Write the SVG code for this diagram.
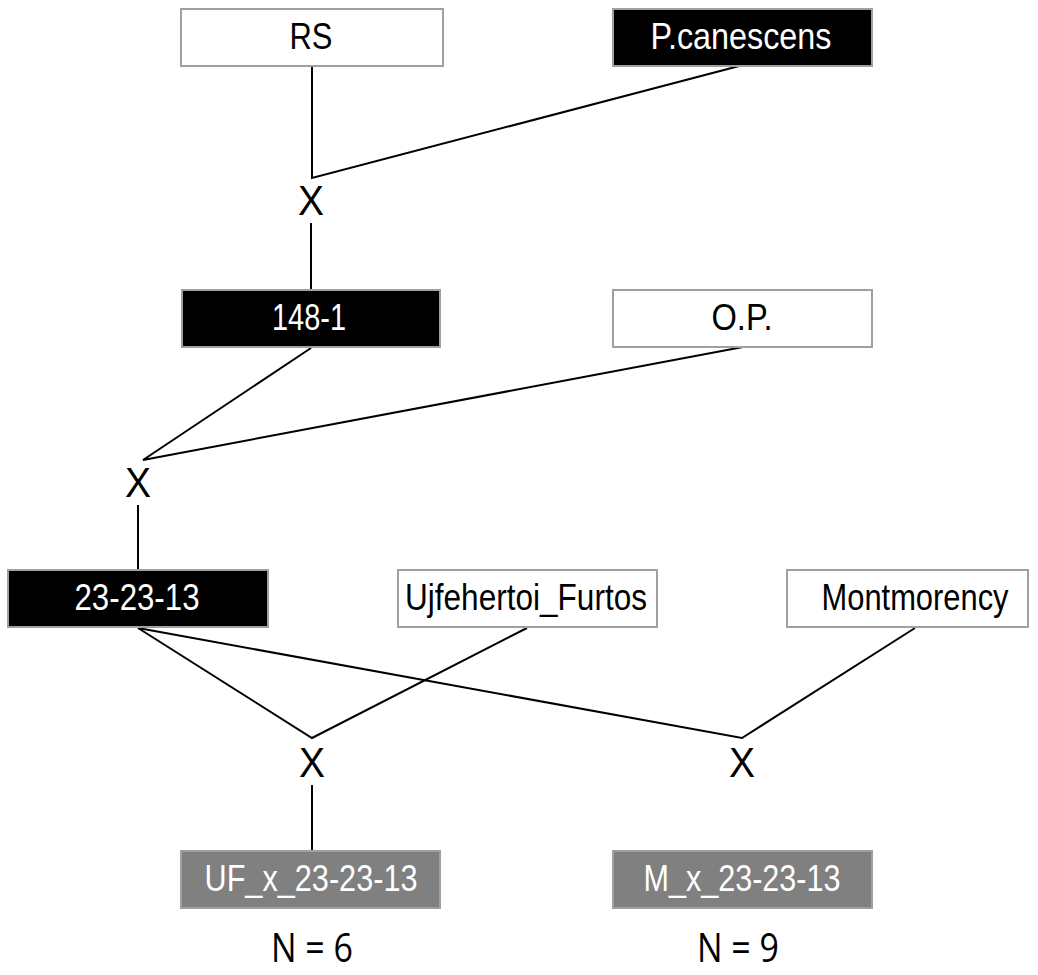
<svg xmlns="http://www.w3.org/2000/svg" width="1038" height="975" viewBox="0 0 1038 975">
<style>
.box{stroke:#a0a0a0;stroke-width:2}
.w{fill:#ffffff}
.b{fill:#000000}
.g{fill:#808080}
.t{font-family:"Liberation Sans",Arial,sans-serif;font-size:36px;text-anchor:middle}
.tw{fill:#ffffff}
.tb{fill:#000000}
.x{font-family:"Liberation Sans",Arial,sans-serif;font-size:42px;text-anchor:middle;fill:#000}
.n{font-family:"Open Sans","Noto Sans",sans-serif;font-size:40px;text-anchor:middle;fill:#000}
.c{fill:none;stroke:#000;stroke-width:2}
</style>
<rect width="1038" height="975" fill="#ffffff"/>
<g id="connectors">
<polyline class="c" points="312,66 312,178 743,65"/>
<line class="c" x1="311" y1="223" x2="311" y2="290"/>
<polyline class="c" points="311,348 143,460 743,347"/>
<line class="c" x1="138" y1="505" x2="138" y2="570"/>
<polyline class="c" points="138,628 312,738 527,628"/>
<polyline class="c" points="138,628 742,738 915,628"/>
<line class="c" x1="312" y1="785" x2="312" y2="851"/>
<text class="x" x="311" y="215" textLength="26" lengthAdjust="spacingAndGlyphs">X</text>
<text class="x" x="138" y="497" textLength="26" lengthAdjust="spacingAndGlyphs">X</text>
<text class="x" x="312" y="777" textLength="26" lengthAdjust="spacingAndGlyphs">X</text>
<text class="x" x="742" y="777" textLength="26" lengthAdjust="spacingAndGlyphs">X</text>
</g>
<g id="RS"><rect class="box w" x="181" y="9" width="262" height="57"/><text class="t tb" x="311" y="49" textLength="43" lengthAdjust="spacingAndGlyphs">RS</text></g>
<g id="Pcanescens"><rect class="box b" x="613" y="9" width="259" height="57"/><text class="t tw" x="741" y="49" textLength="181" lengthAdjust="spacingAndGlyphs">P.canescens</text></g>
<g id="n148-1"><rect class="box b" x="182" y="290" width="258" height="57"/><text class="t tw" x="309" y="330" textLength="74" lengthAdjust="spacingAndGlyphs">148-1</text></g>
<g id="OP"><rect class="box w" x="613" y="290" width="259" height="57"/><text class="t tb" x="742" y="330" textLength="61" lengthAdjust="spacingAndGlyphs">O.P.</text></g>
<g id="n23-23-13"><rect class="box b" x="8" y="570" width="260" height="57"/><text class="t tw" x="137" y="610" textLength="125" lengthAdjust="spacingAndGlyphs">23-23-13</text></g>
<g id="Ujfehertoi_Furtos"><rect class="box w" x="398" y="570" width="259" height="57"/><text class="t tb" x="526" y="610" textLength="242" lengthAdjust="spacingAndGlyphs">Ujfehertoi_Furtos</text></g>
<g id="Montmorency"><rect class="box w" x="787" y="570" width="241" height="57"/><text class="t tb" x="915" y="610" textLength="187" lengthAdjust="spacingAndGlyphs">Montmorency</text></g>
<g id="UF_x_23-23-13"><rect class="box g" x="181" y="851" width="259" height="57"/><text class="t tw" x="311" y="891" textLength="213" lengthAdjust="spacingAndGlyphs">UF_x_23-23-13</text></g>
<g id="M_x_23-23-13"><rect class="box g" x="613" y="851" width="259" height="57"/><text class="t tw" x="742" y="891" textLength="197" lengthAdjust="spacingAndGlyphs">M_x_23-23-13</text></g>
<g id="labels">
<text class="n" x="312" y="962" textLength="82" lengthAdjust="spacingAndGlyphs">N = 6</text>
<text class="n" x="738" y="962" textLength="82" lengthAdjust="spacingAndGlyphs">N = 9</text>
</g>
</svg>
